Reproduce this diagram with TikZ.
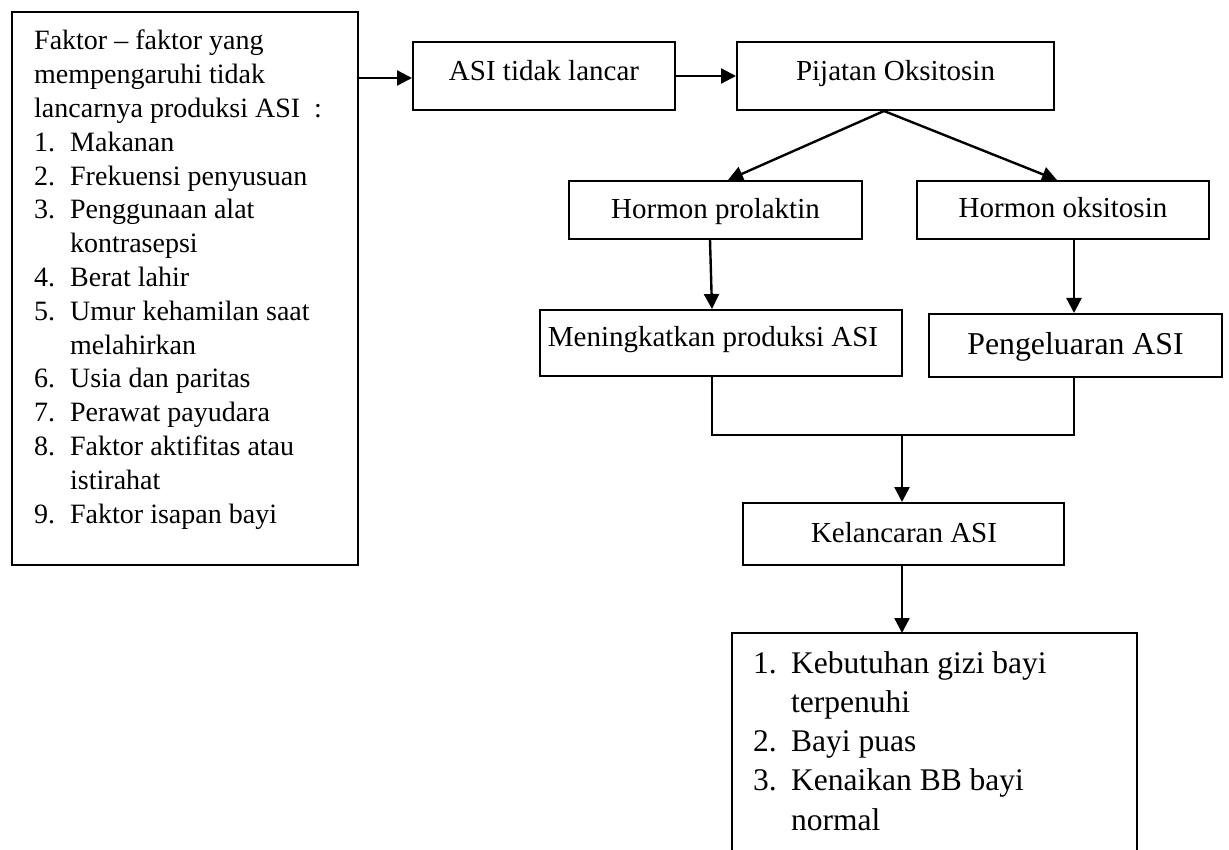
\documentclass[tikz,border=0pt]{standalone}
\usepackage{fontspec}
\setmainfont{Liberation Serif}
\usetikzlibrary{arrows.meta}
\begin{document}
\begin{tikzpicture}[x=1pt,y=-1pt,
  boxshape/.style={draw, line width=2pt, inner sep=0pt},
  conn/.style={line width=2.4pt, -{Triangle[length=15pt,width=15pt]}},
  plain/.style={line width=1.8pt},
  lbl/.style={inner sep=0pt, anchor=base, font=\fontsize{29}{34}\selectfont},
  listtxt/.style={inner sep=0pt, anchor=base west},
]
\useasboundingbox[fill=white] (0,0) rectangle (1229,850);

% boxes
\node[boxshape, minimum width=346pt, minimum height=553pt] (L) at (185,288.5) {};
\node[boxshape, minimum width=262pt, minimum height=68pt] (A) at (544,76) {};
\node[boxshape, minimum width=317pt, minimum height=68pt] (P) at (895.5,76) {};
\node[boxshape, minimum width=293pt, minimum height=58pt] (HP) at (715.5,210) {};
\node[boxshape, minimum width=292pt, minimum height=58pt] (HO) at (1063,210) {};
\node[boxshape, minimum width=362pt, minimum height=66pt] (M) at (721,343) {};
\node[boxshape, minimum width=293pt, minimum height=63pt] (PG) at (1075.5,345.5) {};
\node[boxshape, minimum width=321pt, minimum height=62pt] (K) at (903.5,534) {};
\draw[line width=2pt] (732,852) -- (732,633) -- (1137,633) -- (1137,852);
\coordinate (Bin) at (902,633);

% texts
\node[lbl] (tA) at (544,81) {ASI tidak lancar};
\node[lbl] (tP) at (895.5,81) {Pijatan Oksitosin};
\node[lbl] (tHP) at (715.5,219) {Hormon prolaktin};
\node[lbl] (tHO) at (1063,218) {Hormon oksitosin};
\node[lbl] (tM) at (713,347) {Meningkatkan produksi ASI};
\node[lbl, font=\fontsize{31.8}{36}\selectfont] (tPG) at (1075.5,354) {Pengeluaran ASI};
\node[lbl] (tK) at (904,542) {Kelancaran ASI};

\node[listtxt, font=\fontsize{28}{33.8}\selectfont] (tL) at (34,50) {%
\begin{tabular}[t]{@{}l@{}}
Faktor -- faktor yang\\
mempengaruhi tidak\\
lancarnya produksi ASI\enspace:\\
\makebox[36pt][l]{1.}Makanan\\
\makebox[36pt][l]{2.}Frekuensi penyusuan\\
\makebox[36pt][l]{3.}Penggunaan alat\\
\hspace*{36pt}kontrasepsi\\
\makebox[36pt][l]{4.}Berat lahir\\
\makebox[36pt][l]{5.}Umur kehamilan saat\\
\hspace*{36pt}melahirkan\\
\makebox[36pt][l]{6.}Usia dan paritas\\
\makebox[36pt][l]{7.}Perawat payudara\\
\makebox[36pt][l]{8.}Faktor aktifitas atau\\
\hspace*{36pt}istirahat\\
\makebox[36pt][l]{9.}Faktor isapan bayi
\end{tabular}};

\node[listtxt, font=\fontsize{31.5}{39.3}\selectfont] (tB) at (753,673) {%
\begin{tabular}[t]{@{}l@{}}
\makebox[38pt][l]{1.}Kebutuhan gizi bayi\\
\hspace*{38pt}terpenuhi\\
\makebox[38pt][l]{2.}Bayi puas\\
\makebox[38pt][l]{3.}Kenaikan BB bayi\\
\hspace*{38pt}normal
\end{tabular}};

% connectors
\draw[conn] ([yshift=-2pt]A.west -| L.east) -- ([yshift=-2pt]A.west);
\draw[conn] (A.east) -- (P.west);
\draw[conn] ([xshift=-11.5pt]P.south) -- ([xshift=12.5pt]HP.north);
\draw[conn] ([xshift=-11.5pt]P.south) -- ([xshift=-6pt]HO.north);
\draw[conn] ([xshift=-5.5pt]HP.south) -- ([xshift=-9pt]M.north);
\draw[conn] ([xshift=11pt]HO.south) -- ([xshift=-1.5pt]PG.north);
\coordinate (J) at (902,435);
\draw[plain] ([xshift=-9pt]M.south) |- (J) -| ([xshift=-1.5pt]PG.south);
\draw[conn] (J) -- (J |- K.north);
\draw[conn] (J |- K.south) -- (Bin);
\end{tikzpicture}
\end{document}
